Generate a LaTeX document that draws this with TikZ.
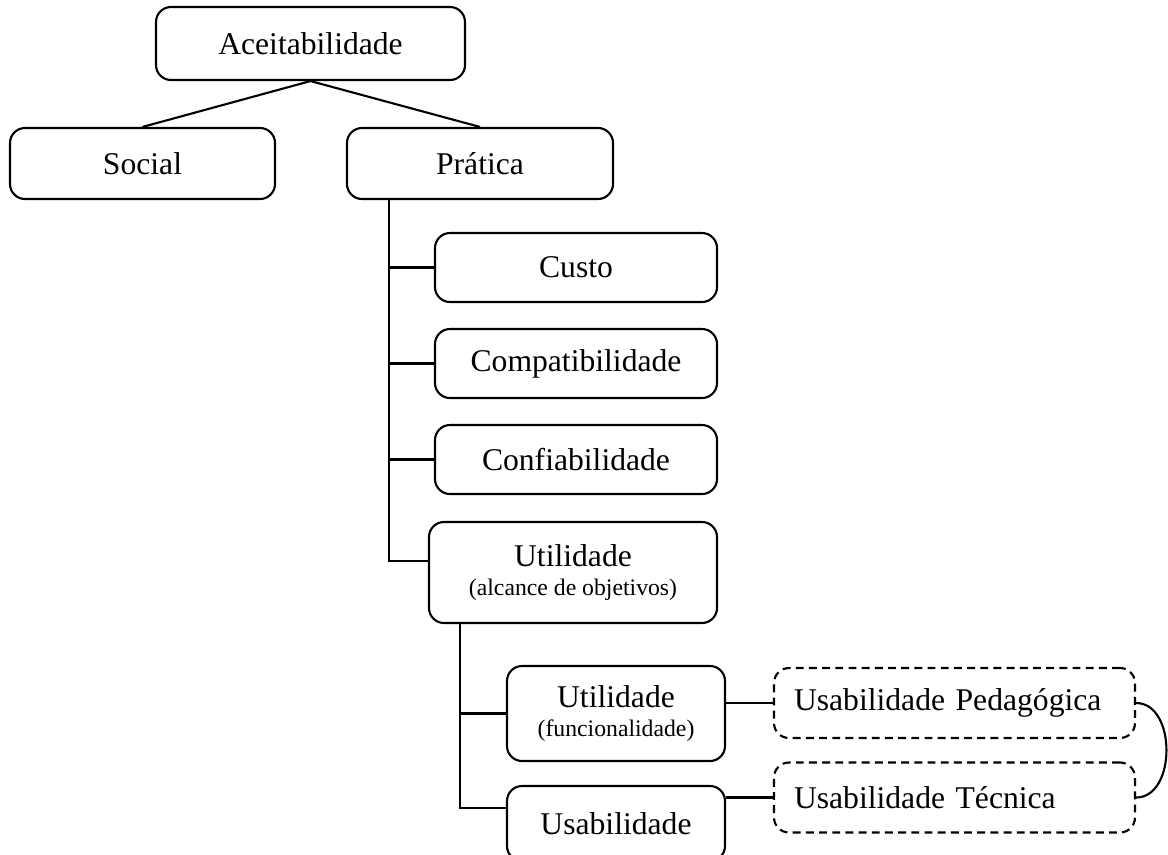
\documentclass[tikz,border=0pt]{standalone}
\usepackage{fontspec}
\setmainfont{Liberation Serif}
\usepackage{tikz}
\usetikzlibrary{shapes.geometric, arrows}
\newcommand{\bigfont}{\fontsize{18}{20}\selectfont}
\newcommand{\subfont}{\fontsize{13.5}{15}\selectfont}
\tikzstyle{box} = [rectangle, rounded corners=0.3cm, draw=black, line width=1.2pt, align=center, font=\bigfont]
\tikzstyle{dbox} = [box, dash pattern=on 4.5pt off 3pt, text width=6.42cm, align=left, inner xsep=0.4cm, minimum height=1.4cm]
\tikzstyle{line} = [line width=1.2pt]

\begin{document}
\begin{tikzpicture}[node distance=1.92cm]
\useasboundingbox (0,0) rectangle (23.36,-17.08);
\node (acei) [box, minimum width=6.18cm, minimum height=1.46cm] at (6.21,-0.87) {Aceitabilidade};
\node (social) [box, minimum width=5.3cm, minimum height=1.42cm] at (2.85,-3.27) {Social};
\node (pratica) [box, minimum width=5.32cm, minimum height=1.42cm, right of=social, node distance=6.75cm] {Pr\'atica};

\node (custo) [box, minimum width=5.64cm, minimum height=1.38cm] at (11.52,-5.35) {Custo};
\node (compat) [box, minimum width=5.64cm, minimum height=1.38cm, below of=custo] {Compatibilidade};
\node (confiab) [box, minimum width=5.64cm, minimum height=1.38cm, below of=compat] {Confiabilidade};
\node (utilA) [box, minimum width=5.76cm, minimum height=2.02cm] at (11.46,-11.45) {Utilidade\\[-4pt]{\subfont (alcance de objetivos)}};

\node (utilF) [box, minimum width=4.36cm, minimum height=1.9cm] at (12.32,-14.27) {Utilidade\\[-4pt]{\subfont (funcionalidade)}};
\node (usab) [box, minimum width=4.36cm, minimum height=1.5cm] at (12.32,-16.47) {Usabilidade};
\node (usabP) [dbox] at (19.09,-14.06) {Usabilidade Pedag\'ogica};
\node (usabT) [dbox] at (19.09,-15.95) {Usabilidade T\'ecnica};

\draw [line] (acei.south) -- (social.north);
\draw [line] (acei.south) -- (pratica.north);

\coordinate (t1) at ([xshift=0.86cm]pratica.south west);
\draw [line] (t1) |- ([yshift=0.23cm]utilA.west);
\draw [line] (t1) |- (custo.west);
\draw [line] (t1) |- (compat.west);
\draw [line] (t1) |- (confiab.west);

\coordinate (t2) at ([xshift=0.64cm]utilA.south west);
\draw [line] (t2) |- ([yshift=0.31cm]usab.west);
\draw [line] (t2) |- (utilF.west);

\draw [line] (utilF.east |- usabP.west) -- (usabP.west);
\draw [line] (usab.east |- usabT.west) -- (usabT.west);
\draw [line] (usabP.east) to[out=0, in=0, looseness=1.1] (usabT.east);

\end{tikzpicture}
\end{document}
